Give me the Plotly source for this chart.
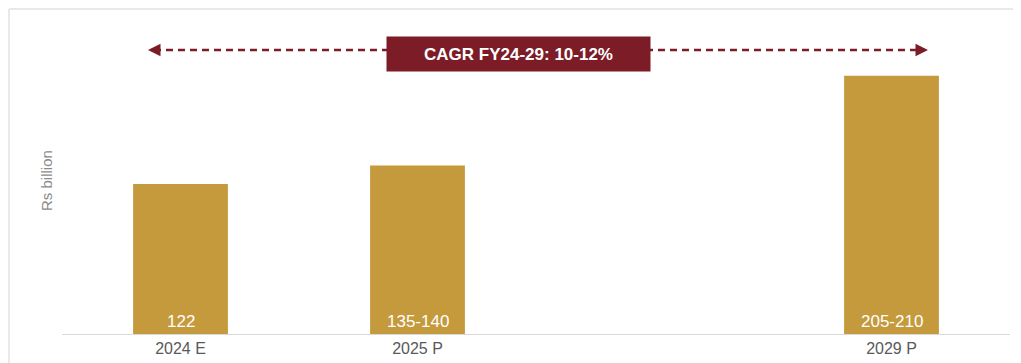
import plotly.graph_objects as go

categories = ["2024 E", "2025 P", " ", "2029 P"]
values = [122, 137, None, 210]
bar_labels = ["122", "135-140", "", "205-210"]
cagr_label = "CAGR FY24-29: 10-12%"
y_title = "Rs billion"

OFF = 8  # default page body margin
W, H = 1021 - OFF, 363 - OFF
# plot area in screen pixels: x 62..1010, y 9..334
SX0, SX1, SY0, SY1 = 62, 1010, 9, 334
L, R = SX0 - OFF, W - (SX1 - OFF)
T, B = SY0 - OFF, H - (SY1 - OFF)
pw = SX1 - SX0
ph = SY1 - SY0

def px_x(x):
    return (x - SX0) / pw

def px_y(y):
    return (SY1 - y) / ph

FONT = "Liberation Sans, Arial"
fig = go.Figure()
fig.add_trace(go.Bar(
    x=categories, y=values,
    marker=dict(color="#C49A3C", line=dict(width=0)),
    width=0.4, hoverinfo="skip",
))
for c, v, t in zip(categories, values, bar_labels):
    if t:
        fig.add_annotation(x=c, y=0, yref="y", text=t, showarrow=False,
                           yanchor="middle", yshift=13,
                           font=dict(color="white", size=17, family=FONT))

red = "#7B1C26"
ay = px_y(50)
fig.add_shape(type="line", xref="paper", yref="paper",
              x0=px_x(154), x1=px_x(922), y0=ay, y1=ay,
              line=dict(color=red, width=2.5, dash="7px,5px"))
fig.add_annotation(xref="paper", yref="paper", x=px_x(148), y=ay, ax=10, ay=0,
                   showarrow=True, arrowhead=2, arrowsize=1, arrowwidth=2.5,
                   arrowcolor=red, text="")
fig.add_annotation(xref="paper", yref="paper", x=px_x(928), y=ay, ax=-10, ay=0,
                   showarrow=True, arrowhead=2, arrowsize=1, arrowwidth=2.5,
                   arrowcolor=red, text="")
fig.add_annotation(xref="paper", yref="paper", x=px_x(518.5), y=px_y(54),
                   xanchor="center", yanchor="middle",
                   text="<b>" + cagr_label + "</b>", showarrow=False,
                   bgcolor=red, width=263, height=34, borderpad=0,
                   font=dict(color="white", size=17, family=FONT))
fig.add_annotation(xref="paper", yref="paper", x=px_x(47), y=px_y(181),
                   xanchor="center", yanchor="middle",
                   text=y_title, textangle=-90, showarrow=False,
                   font=dict(color="#8a8a8a", size=15, family=FONT))
# light frame: top and left edges only (others fall outside the view)
border = dict(color="#e2e2e2", width=1.5)
fig.add_shape(type="line", xref="paper", yref="paper", layer="below",
              x0=px_x(9), x1=px_x(1030), y0=px_y(9), y1=px_y(9), line=border)
fig.add_shape(type="line", xref="paper", yref="paper", layer="below",
              x0=px_x(9), x1=px_x(9), y0=px_y(9), y1=px_y(400), line=border)

fig.update_layout(
    width=W, height=H,
    margin=dict(l=L, r=R, t=T, b=B),
    paper_bgcolor="white", plot_bgcolor="white",
    showlegend=False,
    xaxis=dict(type="category", showgrid=False, showline=True, linecolor="#d9d9d9",
               linewidth=1, ticks="", tickfont=dict(color="#595959", size=16, family=FONT)),
    yaxis=dict(range=[0, ph / (150 / 122)], showgrid=False, showticklabels=False,
               zeroline=False, showline=False),
)

fig.write_html("out.html")
